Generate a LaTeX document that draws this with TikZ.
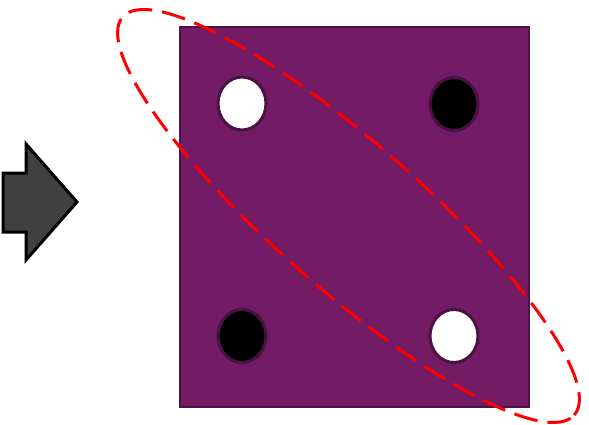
\documentclass[tikz,border=0pt]{standalone}
\definecolor{plate}{HTML}{731B65}
\definecolor{plateedge}{HTML}{4F1447}
\definecolor{holeedge}{HTML}{4A1242}
\definecolor{arrowgray}{HTML}{404040}
\definecolor{ringred}{HTML}{FF0000}
\tikzset{
  platebox/.style={fill=plate,draw=plateedge,line width=2pt},
  whitehole/.style={fill=white,draw=holeedge,line width=3pt},
  blackhole/.style={fill=black,draw=holeedge,line width=3pt},
  blockarrow/.style={fill=arrowgray,draw=black,line width=3pt,line join=miter},
  ring/.style={draw=ringred,line width=3pt,dash pattern=on 24pt off 10pt}
}
\begin{document}
\begin{tikzpicture}[x=1pt,y=-1pt]
\useasboundingbox (0,0) rectangle (589,425);
% plate
\draw[platebox] (180,27) rectangle (529,407);
% holes
\coordinate (h1) at (242,103.5);
\coordinate (h2) at (454,104);
\coordinate (h3) at (242,336);
\coordinate (h4) at (454,336);
\draw[whitehole] (h1) ellipse [x radius=24pt, y radius=26.5pt];
\draw[blackhole] (h2) ellipse [x radius=24pt, y radius=26.5pt];
\draw[blackhole] (h3) ellipse [x radius=24pt, y radius=26.5pt];
\draw[whitehole] (h4) ellipse [x radius=24pt, y radius=26.5pt];
% dashed ring
\coordinate (c) at (348.5,216);
\draw[ring,rotate around={-41.4:(c)}] (c) ellipse [x radius=301pt, y radius=73pt];
% block arrow
\draw[blockarrow] (3,173) -- (26,173) -- (26,144) -- (77,202) -- (26,260) -- (26,232) -- (3,232) -- cycle;
\end{tikzpicture}
\end{document}
